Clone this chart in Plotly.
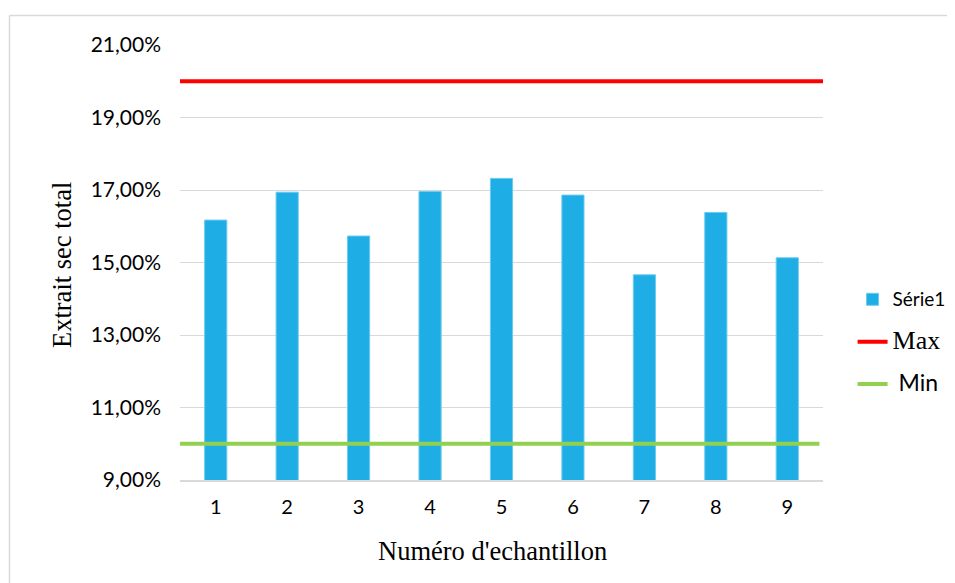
import plotly.graph_objects as go

# ---- data ----
categories = ["1", "2", "3", "4", "5", "6", "7", "8", "9"]
serie1 = [0.1617, 0.1694, 0.1573, 0.1696, 0.1732, 0.1686, 0.1466, 0.1638, 0.1513]
max_value = 0.20
min_value = 0.10
y_ticks = [0.09, 0.11, 0.13, 0.15, 0.17, 0.19, 0.21]

x_idx = list(range(1, len(categories) + 1))

GOTHIC = "Lato, 'Open Sans', sans-serif"
SERIF = "'Liberation Serif', 'Times New Roman', serif"

# page is rendered with an 8px body margin; compensate so the picture lines up
OFF = 8

fig = go.Figure()

fig.add_trace(go.Bar(
    x=x_idx, y=serie1, name="<span style='font-size:19px'>Série1</span>",
    marker=dict(color="#1EADE4", line=dict(color="#6CCBEF", width=1)),
    legendgroup="a",
))
fig.add_trace(go.Scatter(
    x=[0.5, len(categories) + 0.5], y=[max_value, max_value], mode="lines",
    name="<span style='font-family:Liberation Serif;font-size:26px'>Max</span>",
    line=dict(color="#FF0000", width=4), legendgroup="b", cliponaxis=False,
))
fig.add_trace(go.Scatter(
    x=[0.45, len(categories) + 0.45], y=[min_value, min_value], mode="lines",
    name="<span style='font-size:23px'> Min</span>",
    line=dict(color="#92D050", width=4), legendgroup="c", cliponaxis=False,
))

# plot area in page pixels
PL, PR, PT, PB = 180, 823, 45, 480
L, R, T, B = PL - OFF, PR - OFF, PT - OFF, PB - OFF
W, H = 955, 583

fig.update_layout(
    width=W, height=H,
    margin=dict(l=L, r=W - R, t=T, b=H - B, autoexpand=False),
    paper_bgcolor="white", plot_bgcolor="white",
    separators=", ",
    bargap=0.69,
    font=dict(family=GOTHIC, size=20, color="#000000"),
    showlegend=True,
    legend=dict(
        x=1.046, y=0.317, xanchor="left", yanchor="middle",
        traceorder="grouped", tracegroupgap=16,
        font=dict(family=GOTHIC, size=18, color="#000000"),
        bgcolor="rgba(0,0,0,0)", itemwidth=30,
    ),
    xaxis=dict(
        range=[0.5, len(categories) + 0.5],
        tickmode="array", tickvals=x_idx, ticktext=categories,
        showgrid=False, zeroline=False,
        showline=True, linecolor="#D9D9D9", linewidth=1.5,
        ticks="", ticklabelstandoff=8,
        tickfont=dict(family=GOTHIC, size=20),
    ),
    yaxis=dict(
        range=[0.09, 0.21],
        tickmode="array", tickvals=y_ticks,
        tickformat=".2%",
        showgrid=True, gridcolor="#D9D9D9", gridwidth=1.2,
        zeroline=False, showline=False,
        ticks="", ticklabelstandoff=18,
        tickfont=dict(family=GOTHIC, size=21),
    ),
)

def px_to_paper(px, py):
    px -= OFF
    py -= OFF
    return (px - L) / (R - L), (B - py) / (B - T)

ax, ay = px_to_paper(492, 551)
fig.add_annotation(text="Numéro d'echantillon", x=ax, y=ay, xref="paper", yref="paper",
                   xanchor="center", yanchor="middle", showarrow=False,
                   font=dict(family=SERIF, size=26.5))
ax, ay = px_to_paper(62, 265)
fig.add_annotation(text="Extrait sec total", x=ax, y=ay, xref="paper", yref="paper",
                   xanchor="center", yanchor="middle", showarrow=False, textangle=-90,
                   font=dict(family=SERIF, size=26.5))

# outer chart border: only top and left edges are visible in the reference
bx0, by1 = px_to_paper(9.5, 15.5)
bx1, by0 = px_to_paper(1300, 900)
fig.add_shape(type="line", xref="paper", yref="paper",
              x0=bx0, x1=bx1, y0=by1, y1=by1,
              line=dict(color="#D9D9D9", width=1.5), layer="below")
fig.add_shape(type="line", xref="paper", yref="paper",
              x0=bx0, x1=bx0, y0=by0, y1=by1,
              line=dict(color="#D9D9D9", width=1.5), layer="below")

fig.write_html("out.html")
